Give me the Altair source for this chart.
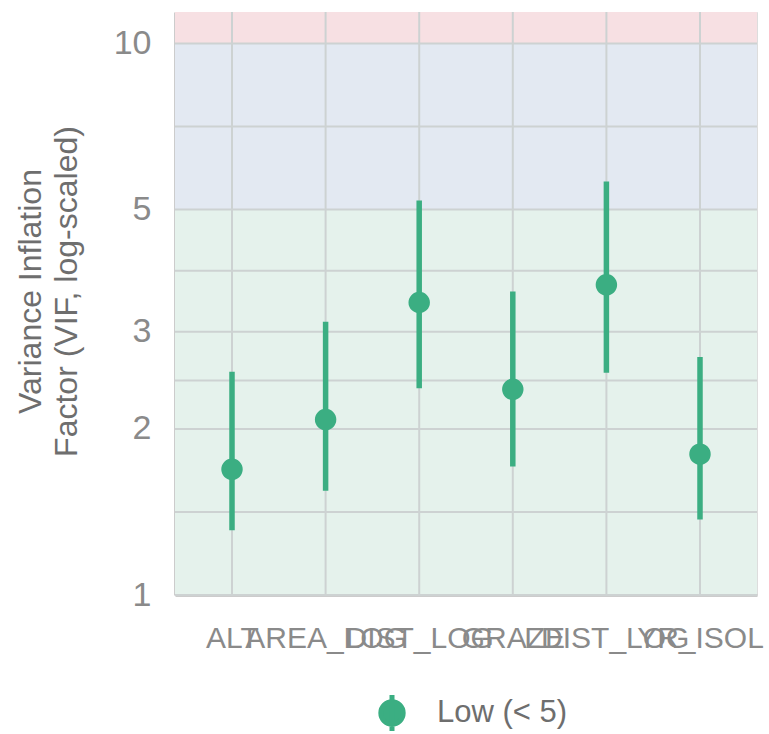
import altair as alt
import pandas as pd

# Predictor variables and their VIF estimates with interval bounds
variables = ["ALT", "AREA_LOG", "DIST_LOG", "GRAZE", "LDIST_LOG", "YR_ISOL"]
vif = [1.69, 2.08, 3.39, 2.36, 3.65, 1.80]
vif_low = [1.31, 1.545, 2.37, 1.71, 2.53, 1.37]
vif_high = [2.54, 3.13, 5.19, 3.55, 5.62, 2.70]
level = ["Low (< 5)"] * len(variables)

# Severity bands (VIF ranges)
band_lo = [1, 5, 10]
band_hi = [5, 10, 11.4]
band_name = ["low", "moderate", "high"]
band_fill = ["#e5f2ec", "#e3e9f2", "#f7e0e3"]

# Gridline positions on the log axis and the labelled ticks
y_grid = [1, 1.414, 2, 2.449, 3, 3.873, 5, 7.071, 10]
y_labels = [1, 2, 3, 5, 10]

FONT = "Liberation Sans"
GREEN = "#3bae82"
GRID = "#cdd2d2"

points = pd.DataFrame({
    "variable": variables,
    "vif": vif,
    "lo": vif_low,
    "hi": vif_high,
    "level": level,
})
bands = pd.DataFrame({"lo": band_lo, "hi": band_hi, "band": band_name})
grid = pd.DataFrame({"v": y_grid})
cats = pd.DataFrame({"variable": variables})

y_scale = alt.Scale(type="log", domain=[1, 11.4], nice=False)
x_scale = alt.Scale(type="point", padding=0.609)

x_enc = alt.X(
    "variable:N",
    sort=variables,
    scale=x_scale,
    axis=alt.Axis(
        title=None, labelAngle=0, labelAlign="center", labelBaseline="top",
        labelOverlap=False, labelBound=False, labelFlush=False,
        labelFontSize=30, labelColor="#8a8a8a", labelFont=FONT,
        labelPadding=28, ticks=False, grid=False,
        domainColor="#cccccc", domainWidth=3,
    ),
)

band_layer = alt.Chart(bands).mark_rect().encode(
    y=alt.Y("lo:Q", scale=y_scale),
    y2="hi:Q",
    color=alt.Color("band:N", scale=alt.Scale(domain=band_name, range=band_fill), legend=None),
)

hgrid = alt.Chart(grid).mark_rule(color=GRID, strokeWidth=2).encode(
    y=alt.Y("v:Q", scale=y_scale)
)

vgrid = alt.Chart(cats).mark_rule(color=GRID, strokeWidth=2).encode(
    x=alt.X("variable:N", sort=variables, scale=x_scale)
)

err = alt.Chart(points).mark_rule(color=GREEN, strokeWidth=5.5).encode(
    x=alt.X("variable:N", sort=variables, scale=x_scale),
    y=alt.Y("lo:Q", scale=y_scale),
    y2="hi:Q",
)

legend_symbol = "M0,-1L0,1M-0.62,0A0.62,0.62,0,1,1,0.62,0A0.62,0.62,0,1,1,-0.62,0Z"

pts = alt.Chart(points).mark_point(filled=True, size=460, opacity=1).encode(
    x=x_enc,
    y=alt.Y(
        "vif:Q",
        scale=y_scale,
        axis=alt.Axis(
            values=y_labels,
            title=["Variance Inflation", "Factor (VIF, log-scaled)"],
            titleFontSize=32, titleColor="#6e6e6e", titleFont=FONT,
            titleFontWeight="normal", titleLineHeight=36, titlePadding=30,
            titleY=279,
            labelFontSize=34, labelColor="#8a8a8a", labelFont=FONT,
            labelPadding=24, ticks=False, grid=False,
            domainColor="#cccccc", domainWidth=3,
        ),
    ),
    color=alt.Color(
        "level:N",
        scale=alt.Scale(domain=["Low (< 5)"], range=[GREEN]),
        legend=alt.Legend(
            title=None, orient="none", legendX=196, legendY=680, padding=0,
            symbolType=legend_symbol,
            symbolSize=1300, symbolStrokeWidth=5, symbolStrokeColor=GREEN,
            symbolFillColor=GREEN, labelFontSize=31, labelColor="#6e6e6e",
            labelFont=FONT, labelOffset=24,
        ),
    ),
)

chart = alt.layer(band_layer, hgrid, vgrid, err, pts).resolve_scale(
    color="independent"
).properties(
    width=582,
    height=583,
    autosize=alt.AutoSizeParams(type="none"),
    padding={"left": 175, "top": 12, "right": 12, "bottom": 139},
).configure_view(stroke=None).configure(background="white")

chart.save("out.html", embed_options={"renderer": "svg", "actions": False})
